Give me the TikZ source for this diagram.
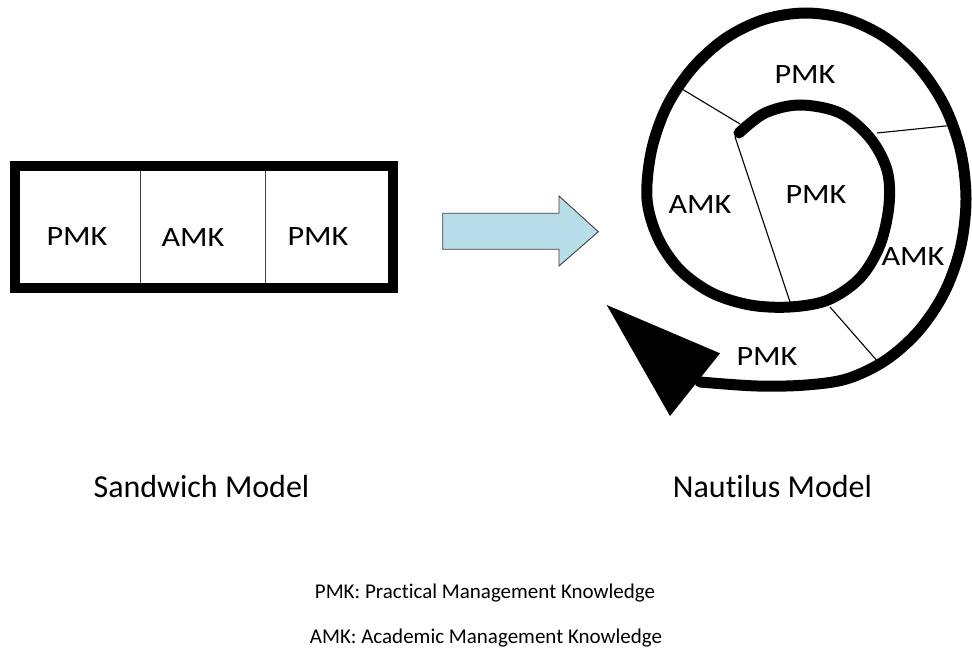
\documentclass[tikz,border=0pt]{standalone}
\usepackage{fontspec}
\setmainfont{Carlito}[Ligatures=NoCommon]
\newfontfamily\widefont[FakeStretch=1.15,Ligatures=NoCommon]{Carlito}
\definecolor{arrowfill}{HTML}{B7DEE8}
\definecolor{edgegray}{HTML}{404040}
\begin{document}
\begin{tikzpicture}[x=1pt,y=-1pt,
  cell/.style={font=\widefont\fontsize{28}{32}\selectfont, anchor=base, inner sep=0pt},
  caption/.style={font=\fontsize{32}{38}\selectfont, anchor=base, inner sep=0pt},
  legend/.style={font=\fontsize{21}{25}\selectfont, anchor=base, inner sep=0pt},
  frame/.style={draw=black, line width=10pt},
  divider/.style={draw=edgegray, line width=1pt},
  bigarrow/.style={fill=arrowfill, draw=edgegray, line width=0.9pt, line join=miter},
  spiral/.style={draw=black, line width=11pt, line cap=round},
  radial/.style={draw=black, line width=1.1pt},
  headtri/.style={fill=black}]
\useasboundingbox (0,0) rectangle (972,652);

% Sandwich model
\node[frame, rectangle, inner sep=0pt, minimum width=378pt, minimum height=122pt] (box) at (204,227) {};
\coordinate (d1t) at (140,171); \coordinate (d1b) at (140,283);
\coordinate (d2t) at (265.7,171); \coordinate (d2b) at (265.7,283);
\draw[divider] (d1t) -- (d1b);
\draw[divider] (d2t) -- (d2b);
\node[cell] (s1) at (77,246) {PMK};
\node[cell] (s2) at (193,246.5) {AMK};
\node[cell] (s3) at (318,246) {PMK};

% Block arrow
\draw[bigarrow] (442.7,213.3) -- (559,213.3) -- (559,196) -- (598.3,231.7)
  -- (559,266) -- (559,249.3) -- (442.7,249.3) -- cycle;

% Nautilus spiral
\draw[spiral] plot[smooth, tension=0.55] coordinates {
  (739,133) (765,113) (800,105) (840,113) (870,138) (887,170) (889,205)
  (880,245) (860,278) (828,300) (790,307) (750,305) (712,293) (680,270)
  (658,238) (647,199) (651.4,150.8) (667,106) (693,67.5) (726,38)
  (764.6,19.3) (806,13) (847.4,19.3) (886,38) (919,67.5) (944.6,106)
  (960.6,150.8) (966,199) (960.6,247) (944.6,292) (919,330.5) (886,360)
  (847.4,378.7) (806,385) (757,386) (700,382)};
\fill[headtri] (606.7,305) -- (720,353.3) -- (670,416) -- cycle;

% radial separators
\draw[radial] (677,86) -- (740,124);
\draw[radial] (735,137) -- (790,302);
\draw[radial] (877,133) -- (955,125);
\draw[radial] (830,307) -- (879,363);

\node[cell] (n1) at (805,84) {PMK};
\node[cell] (n2) at (700,214) {AMK};
\node[cell] (n3) at (816,204) {PMK};
\node[cell] (n4) at (913,266) {AMK};
\node[cell] (n5) at (767,366) {PMK};

% captions
\node[caption] (c1) at (201.5,497.5) {Sandwich Model};
\node[caption] (c2) at (772.5,497.5) {Nautilus Model};

% legend
\node[legend] (l1) at (485,598) {PMK: Practical Management Knowledge};
\node[legend] (l2) at (486,643) {AMK: Academic Management Knowledge};
\end{tikzpicture}
\end{document}
